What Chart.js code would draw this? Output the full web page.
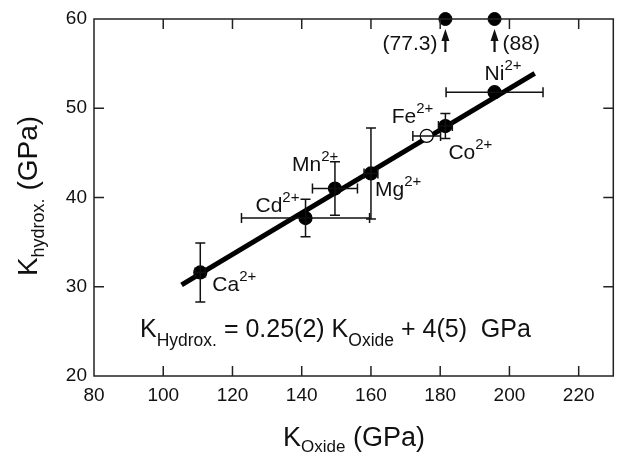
<!DOCTYPE html>
<html>
<head>
<meta charset="utf-8">
<script src="https://cdn.jsdelivr.net/npm/chart.js@4.4.0/dist/chart.umd.min.js"></script>
<style>
  html, body { margin: 0; padding: 0; background: #fff; }
  #wrap { width: 621px; height: 453px; }
</style>
</head>
<body>
<div id="wrap"><canvas id="chart"></canvas></div>
<script>
// Bulk moduli of hydroxides vs. oxides
const ions = ['Ca', 'Cd', 'Mn', 'Mg', 'Fe', 'Co', 'Ni'];
const kOxide = [110.7, 141.1, 149.6, 160.0, 176.1, 181.5, 195.7];
const kHydrox = [31.6, 37.7, 41.0, 42.7, 46.9, 48.0, 51.8];
const kOxideErr = [1.5, 18.5, 6.5, 2.0, 4.0, 2.0, 14.0];
const kHydroxErr = [3.3, 2.1, 3.0, 5.1, 0, 1.4, 0];
const openPoint = [false, false, false, false, true, false, false];

// off-scale hydroxide values, marked at the top edge with an arrow
const offOxide = [181.5, 195.7];
const offHydrox = [77.3, 88];

// linear fit end points
const fitX = [105.3, 207.3];
const fitY = [30.2, 53.9];

const xMin = 80, xMax = 230, xStep = 20;
const yMin = 20, yMax = 60, yStep = 10;

// label offsets (px) from each point: text left / baseline
const labelDx = [12, -50, -43, 4, -35, 3, -10];
const labelDy = [19, -6, -18, 23, -13, 33, -12];

const FONT = '"Liberation Sans", Arial, Helvetica, sans-serif';

const errorBars = {
    id: 'errorBars',
    afterDatasetsDraw(chart) {
        const ctx = chart.ctx;
        const xs = chart.scales.x, ys = chart.scales.y;
        ctx.save();
        ctx.strokeStyle = '#111';
        ctx.lineWidth = 1.5;
        const cap = 5;
        for (let i = 0; i < ions.length; i++) {
            const px = xs.getPixelForValue(kOxide[i]);
            const py = ys.getPixelForValue(kHydrox[i]);
            ctx.beginPath();
            if (kOxideErr[i] > 0) {
                const l = xs.getPixelForValue(kOxide[i] - kOxideErr[i]);
                const r = xs.getPixelForValue(kOxide[i] + kOxideErr[i]);
                ctx.moveTo(l, py); ctx.lineTo(r, py);
                ctx.moveTo(l, py - cap); ctx.lineTo(l, py + cap);
                ctx.moveTo(r, py - cap); ctx.lineTo(r, py + cap);
            }
            if (kHydroxErr[i] > 0) {
                const t = ys.getPixelForValue(kHydrox[i] + kHydroxErr[i]);
                const b = ys.getPixelForValue(kHydrox[i] - kHydroxErr[i]);
                ctx.moveTo(px, t); ctx.lineTo(px, b);
                ctx.moveTo(px - cap, t); ctx.lineTo(px + cap, t);
                ctx.moveTo(px - cap, b); ctx.lineTo(px + cap, b);
            }
            ctx.stroke();
        }
        ctx.restore();
    }
};

// text with sub/superscript parts: [text, size, dy]
function drawRich(ctx, parts, x, y) {
    let cx = x;
    for (const p of parts) {
        ctx.font = p[1] + 'px ' + FONT;
        ctx.fillText(p[0], cx, y + p[2]);
        cx += ctx.measureText(p[0]).width;
    }
}
function richWidth(ctx, parts) {
    let w = 0;
    for (const p of parts) {
        ctx.font = p[1] + 'px ' + FONT;
        w += ctx.measureText(p[0]).width;
    }
    return w;
}

const decorations = {
    id: 'decorations',
    afterDraw(chart) {
        const ctx = chart.ctx;
        const a = chart.chartArea;
        const xs = chart.scales.x, ys = chart.scales.y;
        ctx.save();

        // frame and inward ticks on all sides
        ctx.strokeStyle = '#222';
        ctx.lineWidth = 1.5;
        ctx.strokeRect(a.left, a.top, a.right - a.left, a.bottom - a.top);
        const tl = 10;
        ctx.beginPath();
        for (let v = xMin + xStep; v < xMax; v += xStep) {
            const px = xs.getPixelForValue(v);
            ctx.moveTo(px, a.bottom); ctx.lineTo(px, a.bottom - tl);
            ctx.moveTo(px, a.top); ctx.lineTo(px, a.top + tl);
        }
        for (let v = yMin + yStep; v < yMax; v += yStep) {
            const py = ys.getPixelForValue(v);
            ctx.moveTo(a.left, py); ctx.lineTo(a.left + tl, py);
            ctx.moveTo(a.right, py); ctx.lineTo(a.right - tl, py);
        }
        ctx.stroke();

        ctx.fillStyle = '#111';
        ctx.textBaseline = 'alphabetic';
        ctx.textAlign = 'left';

        // ion labels
        for (let i = 0; i < ions.length; i++) {
            const px = xs.getPixelForValue(kOxide[i]) + labelDx[i];
            const py = ys.getPixelForValue(kHydrox[i]) + labelDy[i];
            drawRich(ctx, [[ions[i], 21, 0], ['2+', 15, -10]], px, py);
        }

        // off-scale markers: arrows and values
        ctx.lineWidth = 2.2;
        ctx.strokeStyle = '#111';
        for (let i = 0; i < offOxide.length; i++) {
            const px = xs.getPixelForValue(offOxide[i]);
            const py = ys.getPixelForValue(yMax);
            ctx.beginPath();
            ctx.moveTo(px, py + 33); ctx.lineTo(px, py + 18);
            ctx.stroke();
            ctx.beginPath();
            ctx.moveTo(px, py + 10);
            ctx.lineTo(px - 4, py + 22);
            ctx.lineTo(px + 4, py + 22);
            ctx.closePath();
            ctx.fill();
            ctx.font = '21px ' + FONT;
            const txt = '(' + offHydrox[i] + ')';
            if (i === 0) {
                ctx.textAlign = 'right';
                ctx.fillText(txt, px - 8, py + 31);
            } else {
                ctx.textAlign = 'left';
                ctx.fillText(txt, px + 8, py + 31);
            }
        }
        ctx.textAlign = 'left';

        // fit equation
        drawRich(ctx, [
            ['K', 25, 0], ['Hydrox.', 17.5, 9], [' = 0.25(2) K', 25, 0],
            ['Oxide', 17.5, 9], [' + 4(5)  GPa', 25, 0]
        ], 140, 337);

        // x axis title
        const xt = [['K', 27, 0], ['Oxide', 17, 6], [' (GPa)', 27, 0]];
        drawRich(ctx, xt, 354 - richWidth(ctx, xt) / 2, 446);

        // y axis title
        const yt = [['K', 28, 0], ['hydrox.', 18, 7], [' (GPa)', 28, 0]];
        ctx.translate(37, 196);
        ctx.rotate(-Math.PI / 2);
        drawRich(ctx, yt, -richWidth(ctx, yt) / 2, 0);
        ctx.restore();
    }
};

const points = kOxide.map((x, i) => ({ x: x, y: kHydrox[i] }));
const offPoints = offOxide.map(x => ({ x: x, y: yMax }));
const fitPoints = fitX.map((x, i) => ({ x: x, y: fitY[i] }));

new Chart(document.getElementById('chart'), {
    type: 'scatter',
    data: {
        datasets: [
            {
                label: 'fit',
                data: fitPoints,
                showLine: true,
                borderColor: '#000',
                borderWidth: 5,
                pointRadius: 0,
                order: 3
            },
            {
                label: 'hydroxides',
                data: points,
                pointRadius: 6.5,
                pointBackgroundColor: openPoint.map(o => o ? '#fff' : '#000'),
                pointBorderColor: '#000',
                pointBorderWidth: 1.2,
                clip: false,
                order: 1
            },
            {
                label: 'off scale',
                data: offPoints,
                pointRadius: 6.5,
                pointBackgroundColor: '#000',
                pointBorderColor: '#000',
                clip: false,
                order: 1
            }
        ]
    },
    options: {
        responsive: true,
        maintainAspectRatio: false,
        animation: false,
        layout: { padding: { top: 19, right: 6, left: 0, bottom: 0 } },
        plugins: {
            legend: { display: false },
            tooltip: { enabled: false }
        },
        scales: {
            x: {
                type: 'linear',
                min: xMin,
                max: xMax,
                grid: { display: false, drawTicks: false },
                border: { display: false },
                ticks: {
                    stepSize: xStep,
                    includeBounds: false,
                    padding: 8,
                    color: '#111',
                    font: { family: FONT, size: 19 }
                },
                afterFit: s => { s.height = 77; }
            },
            y: {
                type: 'linear',
                min: yMin,
                max: yMax,
                grid: { display: false, drawTicks: false },
                border: { display: false },
                ticks: {
                    stepSize: yStep,
                    padding: 7,
                    color: '#111',
                    font: { family: FONT, size: 19 }
                },
                afterFit: s => { s.width = 94; }
            }
        }
    },
    plugins: [errorBars, decorations]
});
</script>
</body>
</html>
